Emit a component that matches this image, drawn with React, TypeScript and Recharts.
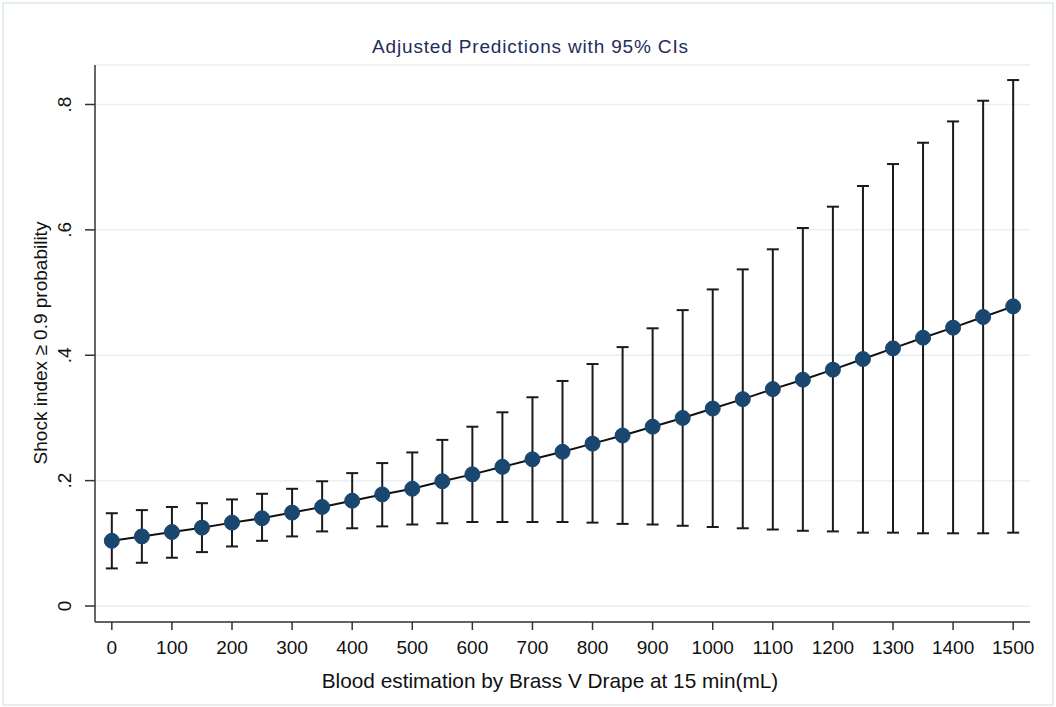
import React from "react";
import {
  ComposedChart,
  Line,
  XAxis,
  YAxis,
  CartesianGrid,
  ErrorBar,
} from "recharts";

// blood estimation (mL), every 50
const bloodLevels = [
  0, 50, 100, 150, 200, 250, 300, 350, 400, 450, 500, 550, 600, 650, 700, 750,
  800, 850, 900, 950, 1000, 1050, 1100, 1150, 1200, 1250, 1300, 1350, 1400,
  1450, 1500,
];

const predicted = [
  0.104, 0.111, 0.118, 0.125, 0.133, 0.14, 0.149, 0.158, 0.168, 0.178, 0.187,
  0.199, 0.21, 0.222, 0.234, 0.246, 0.259, 0.272, 0.286, 0.3, 0.315, 0.33,
  0.346, 0.361, 0.377, 0.394, 0.411, 0.428, 0.444, 0.461, 0.478,
];

const upperCI = [
  0.148, 0.153, 0.158, 0.164, 0.17, 0.179, 0.187, 0.199, 0.212, 0.228, 0.245,
  0.265, 0.286, 0.309, 0.333, 0.359, 0.386, 0.413, 0.443, 0.472, 0.505, 0.537,
  0.569, 0.603, 0.637, 0.67, 0.705, 0.739, 0.773, 0.806, 0.839,
];

const lowerCI = [
  0.06, 0.069, 0.077, 0.086, 0.095, 0.104, 0.111, 0.119, 0.124, 0.127, 0.13,
  0.132, 0.134, 0.134, 0.134, 0.134, 0.133, 0.131, 0.13, 0.128, 0.126, 0.124,
  0.122, 0.12, 0.119, 0.117, 0.117, 0.116, 0.116, 0.116, 0.117,
];

const xTicks = [
  0, 100, 200, 300, 400, 500, 600, 700, 800, 900, 1000, 1100, 1200, 1300, 1400,
  1500,
];
const yTicks = [0, 0.2, 0.4, 0.6, 0.8];

const TITLE = "Adjusted Predictions with 95% CIs";
const X_LABEL = "Blood estimation by Brass V Drape at 15 min(mL)";
const Y_LABEL = "Shock index \u2265 0.9 probability";

const FONT = "'Liberation Sans', Arial, Helvetica, sans-serif";
const DOT = "#1a476f";
const GRID = "#e8f0f3";

const data = bloodLevels.map((x, i) => ({
  x,
  p: predicted[i],
  err: [predicted[i] - lowerCI[i], upperCI[i] - predicted[i]],
}));

// stata style: ".2" instead of "0.2"
const fmtY = (v: number) => (v === 0 ? "0" : String(v).replace(/^0/, ""));

const YTick = (props: any) => {
  const { x, y, payload } = props;
  const bx = x - 12;
  return (
    <text
      x={bx}
      y={y}
      transform={`rotate(-90, ${bx}, ${y})`}
      textAnchor="middle"
      fontSize={19}
      fontFamily={FONT}
      fill="#111"
    >
      {fmtY(payload.value)}
    </text>
  );
};

const XTick = (props: any) => {
  const { x, y, payload } = props;
  return (
    <text
      x={x}
      y={y + 22}
      textAnchor="middle"
      fontSize={19}
      fontFamily={FONT}
      fill="#111"
    >
      {payload.value}
    </text>
  );
};

const App: React.FC = () => {
  return (
    <div
      style={{
        position: "absolute",
        left: 0,
        top: 0,
        width: 1056,
        height: 707,
        background: "#fff",
      }}
    >
      {/* faint outer frame */}
      <div
        style={{
          position: "absolute",
          left: 2,
          top: 2,
          width: 1048,
          height: 700,
          border: "2px solid #e4edf1",
        }}
      />
      <svg
        width={1056}
        height={60}
        style={{ position: "absolute", left: 0, top: 0 }}
      >
        <text
          x={530}
          y={53}
          textAnchor="middle"
          fontSize={19}
          fontFamily={FONT}
          fill="#1f2d5c"
          textLength={316}
          lengthAdjust="spacing"
        >
          {TITLE}
        </text>
      </svg>
      <div style={{ position: "absolute", left: 0, top: 0 }}>
        <ComposedChart
          width={1056}
          height={707}
          data={data}
          margin={{ top: 65, right: 26, bottom: 0, left: 0 }}
        >
          <CartesianGrid
            vertical={false}
            stroke={GRID}
            strokeWidth={1.5}
          />
          <XAxis
            dataKey="x"
            type="number"
            domain={[-28, 1528]}
            ticks={xTicks}
            allowDataOverflow
            height={85}
            tickSize={8}
            stroke="#333"
            strokeWidth={1.5}
            tick={<XTick />}
            label={{
              content: (p: any) => (
                <text
                  x={550}
                  y={p.viewBox.y + 66}
                  textAnchor="middle"
                  fontSize={20.8}
                  fontFamily={FONT}
                  fill="#111"
                >
                  {X_LABEL}
                </text>
              ),
            }}
          />
          <YAxis
            type="number"
            domain={[-0.0255, 0.863]}
            ticks={yTicks}
            allowDataOverflow
            width={95}
            tickSize={10}
            stroke="#333"
            strokeWidth={1.5}
            tick={<YTick />}
            label={{
              content: () => {
                const cx = 47;
                const cy = 343;
                return (
                  <text
                    x={cx}
                    y={cy}
                    transform={`rotate(-90, ${cx}, ${cy})`}
                    textAnchor="middle"
                    fontSize={19}
                    fontFamily={FONT}
                    fill="#111"
                  >
                    {Y_LABEL}
                  </text>
                );
              },
            }}
          />
          <Line
            dataKey="p"
            type="linear"
            stroke="#111"
            strokeWidth={2}
            dot={{ r: 7.5, fill: DOT, stroke: DOT, strokeWidth: 1 }}
            activeDot={false}
            isAnimationActive={false}
          >
            <ErrorBar
              dataKey="err"
              direction="y"
              width={6}
              stroke="#1a1a1a"
              strokeWidth={2}
            />
          </Line>
        </ComposedChart>
      </div>
    </div>
  );
};

export default App;
